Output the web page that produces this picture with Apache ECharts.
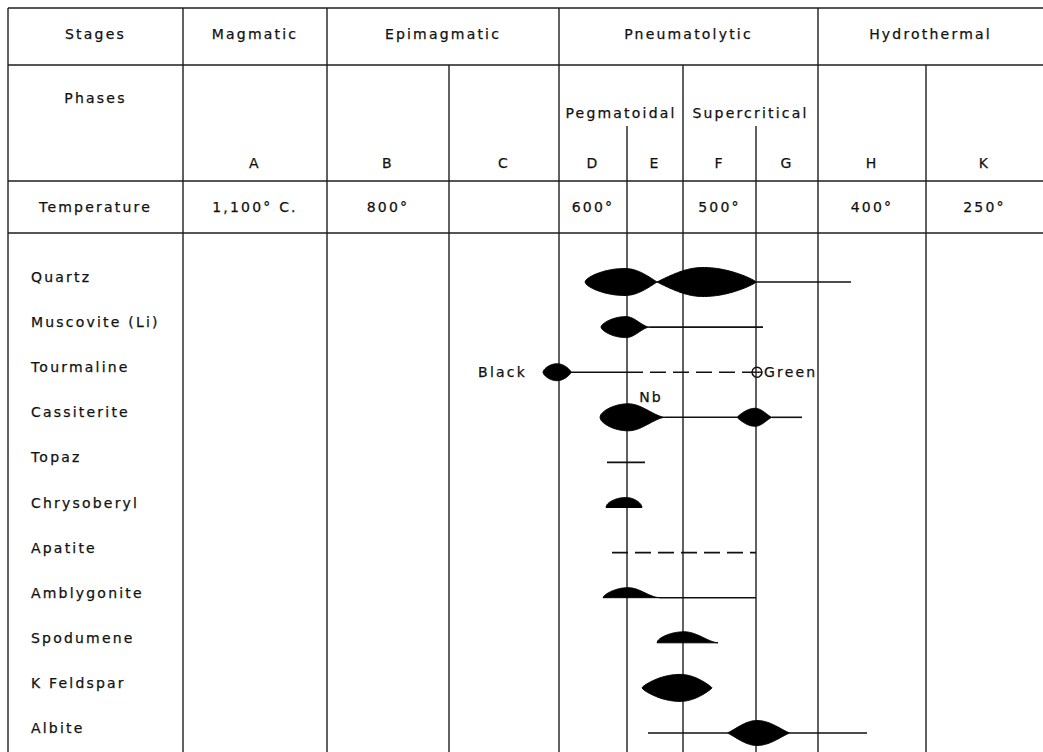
<!DOCTYPE html>
<html>
<head>
<meta charset="utf-8">
<script src="https://cdn.jsdelivr.net/npm/echarts/dist/echarts.min.js"></script>
<style>
html,body{margin:0;padding:0;background:#ffffff;}
#chart{width:1043px;height:752px;}
#chart svg text{letter-spacing:2.2px;}
</style>
</head>
<body>
<div id="chart"></div>
<script>
// ---------------- data ----------------
const rowHeaders = ['Stages', 'Phases', 'Temperature'];
const stages = ['Magmatic', 'Epimagmatic', 'Pneumatolytic', 'Hydrothermal'];
const stageSpans = [[1, 2], [2, 4], [4, 8], [8, 10]];          // column-edge index ranges
const subStages = ['Pegmatoidal', 'Supercritical'];
const subStageSpans = [[4, 6], [6, 8]];
const phases = ['A', 'B', 'C', 'D', 'E', 'F', 'G', 'H', 'K'];
const temperatures = ['1,100° C.', '800°', '', '600°', '', '500°', '', '400°', '250°'];
const colEdges = [8, 183, 327, 449, 559, 627, 683, 756, 818, 926, 1043];

const minerals = ['Quartz', 'Muscovite (Li)', 'Tourmaline', 'Cassiterite', 'Topaz', 'Chrysoberyl',
  'Apatite', 'Amblygonite', 'Spodumene', 'K Feldspar', 'Albite'];

// lenses: [mineral row, start, peak, end, thickness]
const lenses = [
  [0, 585, 625, 657, 13.5],
  [0, 657, 703, 756, 14.5],
  [1, 601, 626, 650, 10.5],
  [2, 543, 557, 571, 8.5],
  [3, 600, 628, 665, 13.5],
  [3, 737, 755, 772, 9],
  [9, 642, 680, 712, 13.5],
  [10, 727, 757, 790, 12.5]
];
// one-sided lenses (domes): [mineral row, start, peak, end, thickness]
const domes = [
  [5, 606, 626, 642, 10],
  [7, 603, 628, 660, 10],
  [8, 657, 684, 718, 11]
];
// continuous occurrence: [mineral row, start, end]
const solidRanges = [
  [0, 756, 851], [1, 650, 763], [2, 571, 627], [3, 665, 737], [3, 772, 802],
  [4, 607, 645], [7, 660, 756], [10, 648, 727], [10, 790, 867]
];
// uncertain occurrence: [mineral row, start, end]
const dashedRanges = [[2, 627, 752], [6, 612, 756]];
// open marks: [mineral row, position]
const openMarks = [[2, 757]];
// notes: [mineral row, text, position]
const notes = [[2, 'Black', 527], [2, 'Green', 764], [3, 'Nb', 651]];

// ---------------- layout / style ----------------
const W = 1043, H = 752;
const FONT = '14px "DejaVu Sans"';
const INK = '#111111';
const ruleYs = [8, 65, 181, 233];
const edgeTops = [8, 8, 8, 65, 8, 126, 65, 126, 8, 65];
const firstRow = 282, rowStep = 45.1;
function rowY(i) { return firstRow + i * rowStep; }
function mid(a, b) { return (colEdges[a] + colEdges[b]) / 2; }
// side taper exponents (left, right) for the outline of each lens / dome
const lensTaper = [[0.6, 1.0], [1.0, 0.8], [0.6, 1.8], [0.6, 0.7], [0.55, 1.6], [0.9, 1.3], [0.75, 0.85], [1.2, 1.2]];
const domeTaper = [[0.5, 0.55], [0.65, 1.8], [0.55, 1.6]];

// table rules
const tableLines = [];
ruleYs.forEach(y => tableLines.push([colEdges[0], y, W, y]));
edgeTops.forEach((t, i) => tableLines.push([colEdges[i], t, colEdges[i], H]));

// texts
const texts = [];
texts.push({ x: mid(0, 1), y: 34, t: rowHeaders[0], a: 'center' });
texts.push({ x: mid(0, 1), y: 98, t: rowHeaders[1], a: 'center' });
texts.push({ x: mid(0, 1), y: 207, t: rowHeaders[2], a: 'center' });
stages.forEach((s, i) => texts.push({ x: mid(stageSpans[i][0], stageSpans[i][1]), y: 34, t: s, a: 'center' }));
subStages.forEach((s, i) => texts.push({ x: mid(subStageSpans[i][0], subStageSpans[i][1]), y: 113, t: s, a: 'center' }));
phases.forEach((p, i) => texts.push({ x: mid(i + 1, i + 2), y: 163, t: p, a: 'center' }));
temperatures.forEach((p, i) => { if (p) texts.push({ x: mid(i + 1, i + 2), y: 207, t: p, a: 'center' }); });
minerals.forEach((m, i) => texts.push({ x: 31, y: rowY(i) - 5, t: m, a: 'left' }));
const noteAlign = { Black: 'right', Green: 'left', Nb: 'center' };
const noteDy = { Black: 0, Green: 0, Nb: -20 };
notes.forEach(n => texts.push({ x: n[2], y: rowY(n[0]) + noteDy[n[1]], t: n[1], a: noteAlign[n[1]] }));

function shapePoints(d, dome, taper) {
  const row = d[0], x0 = d[1], xp = d[2], x1 = d[3], h = d[4];
  const yc = rowY(row), N = 36, up = [];
  const kl = taper[0], kr = taper[1];
  for (let k = 0; k <= N; k++) {
    const t = k / N;
    up.push([x0 + (xp - x0) * t, yc - h * Math.pow(Math.sin(t * Math.PI / 2), kl)]);
  }
  for (let k = 1; k <= N; k++) {
    const t = k / N;
    up.push([xp + (x1 - xp) * t, yc - h * Math.pow(Math.cos(t * Math.PI / 2), kr)]);
  }
  let lo;
  if (dome) lo = [[x1, yc], [x0, yc]];
  else lo = up.slice().reverse().map(p => [p[0], 2 * yc - p[1]]);
  return up.concat(lo);
}

const chart = echarts.init(document.getElementById('chart'), null, { renderer: 'svg' });
chart.setOption({
  animation: false,
  backgroundColor: '#ffffff',
  grid: { left: 0, right: 0, top: 0, bottom: 0 },
  xAxis: { type: 'value', min: 0, max: W, show: false },
  yAxis: { type: 'value', min: 0, max: H, inverse: true, show: false },
  series: [
    {
      type: 'custom', name: 'table', silent: true,
      data: tableLines,
      renderItem: (params, api) => {
        const a = api.coord([api.value(0), api.value(1)]);
        const b = api.coord([api.value(2), api.value(3)]);
        return { type: 'line', shape: { x1: a[0], y1: a[1], x2: b[0], y2: b[1] },
          style: { stroke: '#1e1e1e', lineWidth: 1.4 } };
      }
    },
    {
      type: 'custom', name: 'solid', silent: true,
      data: solidRanges,
      renderItem: (params, api) => {
        const d = solidRanges[params.dataIndex];
        const a = api.coord([d[1], rowY(d[0])]);
        const b = api.coord([d[2], rowY(d[0])]);
        return { type: 'line', shape: { x1: a[0], y1: a[1], x2: b[0], y2: b[1] },
          style: { stroke: INK, lineWidth: 1.6 } };
      }
    },
    {
      type: 'custom', name: 'dashed', silent: true,
      data: dashedRanges,
      renderItem: (params, api) => {
        const d = dashedRanges[params.dataIndex];
        const a = api.coord([d[1], rowY(d[0])]);
        const b = api.coord([d[2], rowY(d[0])]);
        return { type: 'line', shape: { x1: a[0], y1: a[1], x2: b[0], y2: b[1] },
          style: { stroke: INK, lineWidth: 1.6, lineDash: [16, 7] } };
      }
    },
    {
      type: 'custom', name: 'lenses', silent: true,
      data: lenses,
      renderItem: (params, api) => {
        const i = params.dataIndex;
        const pts = shapePoints(lenses[i], false, lensTaper[i]).map(p => api.coord(p));
        return { type: 'polygon', shape: { points: pts }, style: { fill: '#000', stroke: '#000', lineWidth: 1 } };
      }
    },
    {
      type: 'custom', name: 'domes', silent: true,
      data: domes,
      renderItem: (params, api) => {
        const i = params.dataIndex;
        const pts = shapePoints(domes[i], true, domeTaper[i]).map(p => api.coord(p));
        return { type: 'polygon', shape: { points: pts }, style: { fill: '#000', stroke: '#000', lineWidth: 1 } };
      }
    },
    {
      type: 'custom', name: 'open', silent: true,
      data: openMarks,
      renderItem: (params, api) => {
        const d = openMarks[params.dataIndex];
        const c = api.coord([d[1], rowY(d[0])]);
        return { type: 'group', children: [
          { type: 'circle', shape: { cx: c[0], cy: c[1], r: 5 }, style: { fill: 'none', stroke: INK, lineWidth: 1.5 } },
          { type: 'line', shape: { x1: c[0] - 5, y1: c[1], x2: c[0] + 5, y2: c[1] }, style: { stroke: INK, lineWidth: 1.4 } }
        ] };
      }
    },
    {
      type: 'custom', name: 'texts', silent: true,
      data: texts.map(t => [t.x, t.y]),
      renderItem: (params, api) => {
        const t = texts[params.dataIndex];
        const p = api.coord([t.x, t.y]);
        return { type: 'text', x: p[0], y: p[1],
          style: { text: t.t, font: FONT, fill: INK, stroke: INK, lineWidth: 0.25, align: t.a, verticalAlign: 'middle' } };
      }
    }
  ]
});
</script>
</body>
</html>
